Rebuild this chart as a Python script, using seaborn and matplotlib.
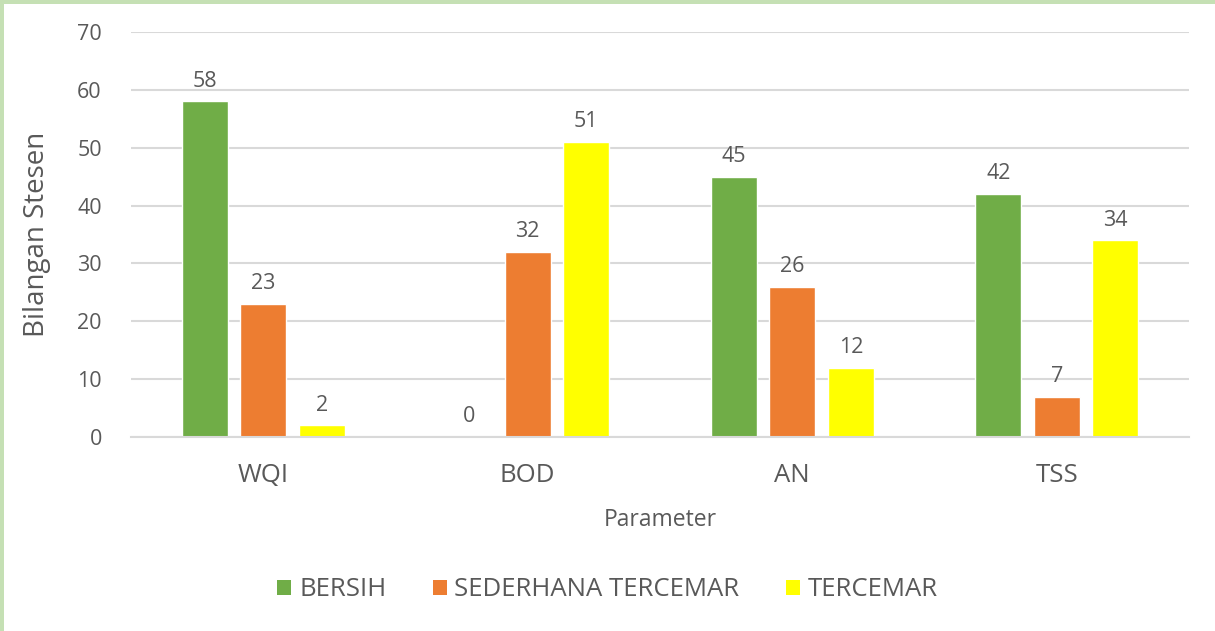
import matplotlib
matplotlib.use("Agg")
import matplotlib.pyplot as plt
import seaborn as sns
import pandas as pd
from matplotlib.patches import Rectangle

categories = ["WQI", "BOD", "AN", "TSS"]
series_names = ["BERSIH", "SEDERHANA TERCEMAR", "TERCEMAR"]
bersih = [58, 0, 45, 42]
sederhana = [23, 32, 26, 7]
tercemar = [2, 51, 12, 34]
colors = ["#70ad47", "#ed7d31", "#ffff00"]
yticks = [0, 10, 20, 30, 40, 50, 60, 70]

rows = []
for name, vals in zip(series_names, [bersih, sederhana, tercemar]):
    for c, v in zip(categories, vals):
        rows.append({"Parameter": c, "Status": name, "Value": v})
df = pd.DataFrame(rows)

sns.set_theme(style="white")
plt.rcParams["font.family"] = ["Open Sans", "DejaVu Sans"]
text_color = "#595959"
grid_color = "#d9d9d9"

fig = plt.figure(figsize=(12.15, 6.31), dpi=100)
ax = fig.add_axes([131/1215, 1-437/631, (1189-131)/1215, (437-32)/631])

sns.barplot(data=df, x="Parameter", y="Value", hue="Status",
            order=categories, hue_order=series_names, palette=colors,
            width=0.664, gap=0.21, ax=ax, legend=False, saturation=1)

for cont in ax.containers:
    ax.bar_label(cont, padding=7, fontsize=15.5, color=text_color)

ax.set_ylim(0, 70)
ax.set_yticks(yticks)
ax.set_xlim(-0.5, len(categories) - 0.5)
ax.yaxis.grid(True, color=grid_color, linewidth=1.5)
ax.set_axisbelow(True)
for s in ["top", "right", "left"]:
    ax.spines[s].set_visible(False)
ax.spines["bottom"].set_color(grid_color)
ax.spines["bottom"].set_linewidth(1.5)
ax.tick_params(axis="y", length=0, labelsize=15.5, labelcolor=text_color, pad=21)
ax.tick_params(axis="x", length=0, labelsize=18.5, labelcolor=text_color, pad=19)
ax.set_ylabel("Bilangan Stesen", fontsize=20, color=text_color, labelpad=19)
ax.set_xlabel("Parameter", fontsize=16.5, color=text_color, labelpad=14)

handles = [Rectangle((0, 0), 1, 1, facecolor=c, edgecolor="none") for c in colors]
fig.legend(handles, series_names, loc="center", bbox_to_anchor=(0.5, 1-590/631),
           ncol=3, frameon=False, fontsize=18.5, labelcolor=text_color,
           handlelength=0.55, handleheight=0.55, handletextpad=0.3, columnspacing=1.8)

# light green frame on top and left
fig.patches.append(Rectangle((0, 1-4/631), 1, 4/631, transform=fig.transFigure,
                             facecolor="#c5e0b4", edgecolor="none", zorder=10))
fig.patches.append(Rectangle((0, 0), 4/1215, 1, transform=fig.transFigure,
                             facecolor="#c5e0b4", edgecolor="none", zorder=10))

fig.savefig("out.png", dpi=100, facecolor="white")
